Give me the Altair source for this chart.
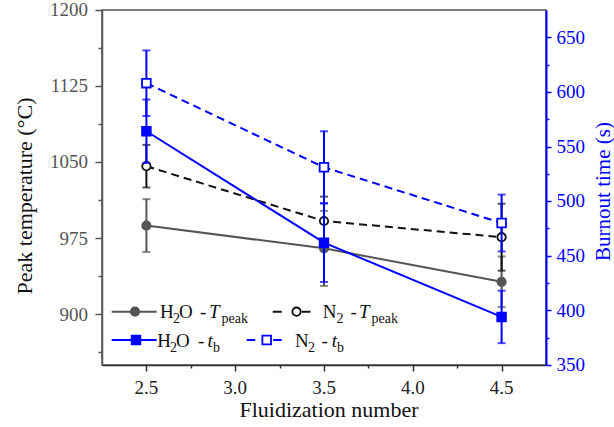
import altair as alt
import pandas as pd

# ---------------- data ----------------
fluid = [2.5, 3.5, 4.5]
h2o_tpeak = [987.5, 965.0, 932.0]
h2o_tpeak_err = [26.0, 37.0, 25.0]
n2_tpeak = [1046.0, 992.0, 976.0]
n2_tpeak_err = [21.0, 24.0, 33.0]
h2o_tb = [564.0, 462.0, 394.0]
h2o_tb_err = [29.0, 36.0, 24.0]
n2_tb = [608.0, 531.0, 480.0]
n2_tb_err = [30.0, 33.0, 26.0]

x_major_ticks = [2.5, 3.0, 3.5, 4.0, 4.5]
x_minor_ticks = [2.75, 3.25, 3.75, 4.25]
left_major_ticks = [900, 975, 1050, 1125, 1200]
left_minor_ticks = [862.5, 937.5, 1012.5, 1087.5, 1162.5]
right_major_ticks = [350, 400, 450, 500, 550, 600, 650]
right_minor_ticks = [375, 425, 475, 525, 575, 625]

x_title = "Fluidization number"
left_title = "Peak temperature (°C)"
right_title = "Burnout time (s)"

# ---------------- styles ----------------
FONT = "Liberation Serif"
BLUE = "#0000FF"
GRAY = "#555555"
BLACK = "#111111"
PL, PT = 102, 10          # plot-area origin in the page
W, H = 444, 355
LAB = 19                  # tick-label font size

xs = alt.Scale(domain=[2.25, 4.75], nice=False, zero=False)
ys_left = alt.Scale(domain=[850, 1200], nice=False, zero=False)
ys_right = alt.Scale(domain=[350, 675], nice=False, zero=False)


def frame(vals, errs):
    return pd.DataFrame({
        "x": fluid,
        "v": vals,
        "lo": [v - e for v, e in zip(vals, errs)],
        "hi": [v + e for v, e in zip(vals, errs)],
    })


def tick_axis(orient, values, size, color, domain=False, dwidth=1.5):
    kw = dict(orient=orient, values=values, grid=False, labels=False, domain=domain,
              tickSize=size, tickWidth=1.5, tickColor=color, title=None)
    if domain:
        kw.update(domainColor=color, domainWidth=dwidth)
    return alt.Axis(**kw)


x_major_axis = tick_axis("bottom", x_major_ticks, 6, "#333", True)
x_minor_axis = tick_axis("bottom", x_minor_ticks, 3, "#333")
left_major_axis = tick_axis("left", left_major_ticks, 7, "#555", True)
left_minor_axis = tick_axis("left", left_minor_ticks, 4, "#555")
right_major_axis = tick_axis("right", right_major_ticks, 5, BLUE, True, 2)
right_minor_axis = tick_axis("right", right_minor_ticks, 3, BLUE)


def series(vals, errs, color, dash, shape, filled, yscale,
           y_major=None, y_minor=None, x_major=None, x_minor=None):
    df = frame(vals, errs)
    base = alt.Chart(df)
    xe = lambda ax: alt.X("x:Q", scale=xs, axis=ax)
    bar = base.mark_rule(color=color, strokeWidth=2).encode(
        x=xe(None), y=alt.Y("lo:Q", scale=yscale, axis=None), y2="hi:Q")
    cap_lo = base.mark_tick(color=color, orient="horizontal", size=8, thickness=2).encode(
        x=xe(None), y=alt.Y("lo:Q", scale=yscale, axis=None))
    cap_hi = base.mark_tick(color=color, orient="horizontal", size=8, thickness=2).encode(
        x=xe(None), y=alt.Y("hi:Q", scale=yscale, axis=None))
    line_kw = dict(color=color, strokeWidth=2)
    if dash:
        line_kw["strokeDash"] = dash
    line = base.mark_line(**line_kw).encode(
        x=xe(x_major), y=alt.Y("v:Q", scale=yscale, axis=y_major))
    pt_kw = dict(shape=shape, size=70 if shape == "circle" else 75, stroke=color,
                 strokeWidth=1.8, opacity=1, fillOpacity=1,
                 fill=color if filled else "white")
    pts = base.mark_point(**pt_kw).encode(
        x=xe(x_minor), y=alt.Y("v:Q", scale=yscale, axis=y_minor))
    return [bar, cap_lo, cap_hi, line, pts]


layers = []
layers += series(h2o_tpeak, h2o_tpeak_err, GRAY, None, "circle", True, ys_left,
                 y_major=left_major_axis, y_minor=left_minor_axis,
                 x_major=x_major_axis, x_minor=x_minor_axis)
layers += series(n2_tpeak, n2_tpeak_err, BLACK, [8, 5], "circle", False, ys_left)
layers += series(h2o_tb, h2o_tb_err, BLUE, None, "square", True, ys_right,
                 y_major=right_major_axis, y_minor=right_minor_axis)
layers += series(n2_tb, n2_tb_err, BLUE, [8, 5], "square", False, ys_right)

# ---------------- tick labels (text marks through the scales) ----------------
layers.append(
    alt.Chart(pd.DataFrame({"t": x_major_ticks})).mark_text(
        align="center", baseline="alphabetic", font=FONT, fontSize=LAB, color="#222").encode(
        x=alt.X("t:Q", scale=xs, axis=None), y=alt.value(H + 29),
        text=alt.Text("t:Q", format=".1f"))
)
layers.append(
    alt.Chart(pd.DataFrame({"t": left_major_ticks})).mark_text(
        align="right", baseline="alphabetic", dy=6.3, font=FONT, fontSize=LAB,
        color="#555").encode(
        y=alt.Y("t:Q", scale=ys_left, axis=None), x=alt.value(-14),
        text=alt.Text("t:Q", format="d"))
)
layers.append(
    alt.Chart(pd.DataFrame({"t": right_major_ticks})).mark_text(
        align="left", baseline="alphabetic", dy=6.3, font=FONT, fontSize=LAB,
        color=BLUE).encode(
        y=alt.Y("t:Q", scale=ys_right, axis=None), x=alt.value(W + 10.5),
        text=alt.Text("t:Q", format="d"))
)

# ---------------- axis titles ----------------
one = pd.DataFrame({"k": [0]})


def title_text(s, x, y, size, color, angle=0):
    kw = dict(align="center", baseline="middle", font=FONT, fontSize=size, color=color)
    if angle:
        kw["angle"] = angle
    return alt.Chart(one).mark_text(**kw).encode(
        x=alt.value(x - PL), y=alt.value(y - PT), text=alt.value(s))


layers += [
    title_text(x_title, 329, 410, 22, "#111"),
    title_text(left_title, 25, 196, 22, "#111", 270),
    title_text(right_title, 604, 191.5, 21, BLUE, 270),
]

# ---------------- legend (manual, inside plot) ----------------


def lrule(x1, x2, y, color, dash=None):
    kw = dict(color=color, strokeWidth=2)
    if dash:
        kw["strokeDash"] = dash
    return alt.Chart(one).mark_rule(**kw).encode(
        x=alt.value(x1 - PL), x2=alt.value(x2 - PL), y=alt.value(y - PT))


def lpoint(x, y, color, shape, filled):
    return alt.Chart(one).mark_point(
        shape=shape, size=70 if shape == "circle" else 75, stroke=color, strokeWidth=1.8,
        opacity=1, fillOpacity=1, fill=color if filled else "white").encode(
        x=alt.value(x - PL), y=alt.value(y - PT))


def ltext(s, x, y, size, style="normal"):
    return alt.Chart(one).mark_text(
        align="left", baseline="alphabetic", font=FONT, fontSize=size,
        fontStyle=style, color="#111").encode(
        x=alt.value(x - PL), y=alt.value(y - PT), text=alt.value(s))


r1, r2 = 311.7, 340.0
b1, s1 = 317.5, 322.5
b2, s2 = 346.5, 351.5
SUB = 14
layers += [
    lrule(111.7, 156.7, r1, GRAY), lpoint(135, r1, GRAY, "circle", True),
    lrule(272.7, 310.5, r1, BLACK, [9, 20]), lpoint(296.5, r1, BLACK, "circle", False),
    lrule(111.7, 156.7, r2, BLUE), lpoint(136, r2, BLUE, "square", True),
    lrule(246.7, 281.7, r2, BLUE, [8.5, 18]), lpoint(266.7, r2, BLUE, "square", False),
]
pieces = [
    ("H", 160, b1, 19, "normal"), ("2", 173, s1, SUB, "normal"), ("O", 179, b1, 19, "normal"),
    ("-", 200, b1, 19, "normal"), ("T", 209, b1, 19, "italic"), ("peak", 221.5, s1, SUB, "normal"),
    ("N", 322.7, b1, 19, "normal"), ("2", 336.5, s1, SUB, "normal"), ("-", 350.5, b1, 19, "normal"),
    ("T", 359, b1, 19, "italic"), ("peak", 371.5, s1, SUB, "normal"),
    ("H", 157.3, b2, 19, "normal"), ("2", 170, s2, SUB, "normal"), ("O", 176, b2, 19, "normal"),
    ("-", 198, b2, 19, "normal"), ("t", 207.5, b2, 19, "italic"), ("b", 213, s2, SUB, "normal"),
    ("N", 295, b2, 19, "normal"), ("2", 308, s2, SUB, "normal"), ("-", 321.5, b2, 19, "normal"),
    ("t", 331.7, b2, 19, "italic"), ("b", 337, s2, SUB, "normal"),
]
layers += [ltext(*p) for p in pieces]

chart = alt.layer(*layers).resolve_scale(y="independent").resolve_axis(
    x="independent", y="independent"
).properties(
    width=W, height=H,
    padding={"left": PL, "top": PT, "right": 614 - PL - W, "bottom": 427 - PT - H},
    autosize=alt.AutoSizeParams(type="none"),
    background="white",
).configure_view(stroke="#555", strokeWidth=1.5).configure_text(font=FONT)

chart.save("out.html", embed_options={"renderer": "svg", "actions": False})
